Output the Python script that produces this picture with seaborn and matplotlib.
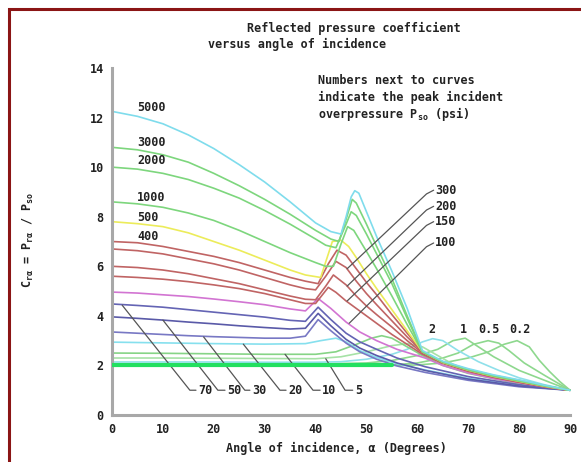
import numpy as np
import pandas as pd
import seaborn as sns
import matplotlib.pyplot as plt
from matplotlib.patches import Rectangle

# curve data: angle of incidence (deg) -> C_ra
a5000 = [0, 5, 10, 15, 20, 25, 30, 35, 40, 43, 45, 46, 47, 47.7, 48.5, 50, 52, 55, 58, 61, 65, 70, 75, 80, 85, 90]
c5000 = [12.25, 12.05, 11.75, 11.3, 10.75, 10.1, 9.4, 8.6, 7.75, 7.4, 7.3, 8.0, 8.8, 9.05, 8.95, 8.2, 7.2, 5.8, 4.3, 2.6, 2.17, 1.87, 1.62, 1.42, 1.2, 1.0]
a3000 = [0, 5, 10, 15, 20, 25, 30, 35, 40, 43, 44.6, 46, 47.2, 48, 50, 52, 55, 58, 61, 65, 70, 75, 80, 85, 90]
c3000 = [10.8, 10.7, 10.5, 10.2, 9.75, 9.25, 8.7, 8.1, 7.45, 7.1, 7.0, 7.9, 8.7, 8.55, 7.7, 6.8, 5.5, 4.0, 2.55, 2.15, 1.84, 1.6, 1.4, 1.19, 1.0]
a2000 = [0, 5, 10, 15, 20, 25, 30, 35, 40, 42, 44, 46, 47, 48, 50, 52, 55, 58, 61, 65, 70, 75, 80, 85, 90]
c2000 = [10.0, 9.92, 9.75, 9.5, 9.15, 8.75, 8.25, 7.7, 7.1, 6.85, 6.75, 7.7, 8.2, 8.05, 7.3, 6.5, 5.3, 3.9, 2.55, 2.14, 1.83, 1.58, 1.38, 1.18, 1.0]
a1000 = [0, 5, 10, 15, 20, 25, 30, 35, 40, 42, 43.5, 45, 46.3, 47.5, 50, 52, 55, 58, 61, 65, 70, 75, 80, 85, 90]
c1000 = [8.6, 8.52, 8.38, 8.15, 7.85, 7.45, 7.0, 6.55, 6.15, 6.0, 6.0, 6.9, 7.6, 7.45, 6.6, 5.9, 4.8, 3.65, 2.55, 2.13, 1.82, 1.57, 1.37, 1.17, 1.0]
a500 = [0, 5, 10, 15, 20, 25, 30, 35, 38, 41, 43.3, 45, 46.5, 48, 50, 52, 55, 58, 61, 65, 70, 75, 80, 85, 90]
c500 = [7.8, 7.72, 7.6, 7.35, 7.0, 6.65, 6.25, 5.85, 5.65, 5.55, 7.0, 7.05, 6.8, 6.35, 5.7, 5.1, 4.25, 3.4, 2.55, 2.12, 1.81, 1.56, 1.36, 1.16, 1.0]
a400 = [0, 5, 10, 15, 20, 25, 30, 35, 38, 40.5, 42.5, 44.2, 46, 48, 50, 52, 55, 58, 61, 65, 70, 75, 80, 85, 90]
c400 = [7.0, 6.95, 6.8, 6.6, 6.4, 6.15, 5.85, 5.55, 5.4, 5.3, 6.1, 6.65, 6.45, 5.9, 5.35, 4.85, 4.05, 3.3, 2.55, 2.12, 1.8, 1.55, 1.35, 1.16, 1.0]
a300 = [0, 5, 10, 15, 20, 25, 30, 35, 38, 40, 42, 44, 46, 48, 50, 52, 55, 58, 61, 65, 70, 75, 80, 85, 90]
c300 = [6.7, 6.63, 6.5, 6.3, 6.1, 5.85, 5.55, 5.25, 5.1, 5.05, 5.6, 6.2, 5.95, 5.4, 4.9, 4.45, 3.8, 3.15, 2.55, 2.11, 1.79, 1.54, 1.34, 1.15, 1.0]
a200 = [0, 5, 10, 15, 20, 25, 30, 35, 38, 40, 42, 43.5, 46, 48, 50, 52, 55, 58, 61, 65, 70, 75, 80, 85, 90]
c200 = [6.0, 5.95, 5.85, 5.7, 5.5, 5.3, 5.05, 4.8, 4.67, 4.65, 5.2, 5.65, 5.25, 4.8, 4.4, 4.05, 3.55, 3.0, 2.5, 2.1, 1.78, 1.53, 1.33, 1.14, 1.0]
a150 = [0, 5, 10, 15, 20, 25, 30, 35, 38, 40, 42.5, 44, 46, 48, 50, 52, 55, 58, 61, 65, 70, 75, 80, 85, 90]
c150 = [5.6, 5.55, 5.48, 5.38, 5.25, 5.1, 4.9, 4.65, 4.5, 4.5, 5.15, 4.95, 4.6, 4.3, 4.0, 3.7, 3.25, 2.85, 2.45, 2.08, 1.76, 1.52, 1.32, 1.14, 1.0]
a100 = [0, 5, 10, 15, 20, 25, 30, 35, 38, 40.5, 43, 46, 48.7, 52, 56, 61.5, 65, 70, 75, 80, 85, 90]
c100 = [4.96, 4.92, 4.85, 4.78, 4.68, 4.57, 4.45, 4.28, 4.2, 4.7, 4.3, 3.75, 3.35, 3.0, 2.65, 2.3, 2.0, 1.7, 1.47, 1.3, 1.14, 1.0]
a70 = [0, 5, 10, 15, 20, 25, 30, 35, 38, 40.5, 43, 46, 48.7, 52, 56, 61.5, 70, 80, 90]
c70 = [4.48, 4.42, 4.35, 4.25, 4.15, 4.05, 3.95, 3.82, 3.78, 4.35, 3.85, 3.3, 2.95, 2.65, 2.3, 1.95, 1.55, 1.22, 1.0]
a50 = [0, 5, 10, 15, 20, 25, 30, 35, 38, 40.5, 43, 46, 48.7, 52, 56, 61.5, 70, 80, 90]
c50 = [3.96, 3.9, 3.83, 3.75, 3.68, 3.6, 3.53, 3.47, 3.5, 4.1, 3.6, 3.05, 2.7, 2.4, 2.1, 1.8, 1.45, 1.17, 1.0]
a30 = [0, 5, 10, 15, 20, 25, 30, 35, 38, 40.5, 43, 46, 48.7, 52, 56, 61.5, 70, 80, 90]
c30 = [3.35, 3.3, 3.25, 3.2, 3.16, 3.13, 3.1, 3.1, 3.18, 3.85, 3.4, 2.9, 2.55, 2.25, 1.98, 1.72, 1.4, 1.14, 1.0]
a20 = [0, 10, 20, 30, 38, 41, 44, 46, 48.7, 52, 56, 61.5, 70, 80, 90]
c20 = [2.94, 2.91, 2.88, 2.86, 2.88, 3.0, 3.1, 2.95, 2.6, 2.32, 2.07, 1.82, 1.48, 1.18, 1.0]
a10 = [0, 10, 20, 30, 40, 44, 48, 51, 53, 55, 58, 61, 65, 70, 80, 90]
c10 = [2.5, 2.49, 2.47, 2.45, 2.45, 2.55, 2.85, 3.1, 3.2, 3.1, 2.75, 2.4, 2.0, 1.68, 1.25, 1.0]
a5 = [0, 10, 20, 30, 40, 45, 50, 55, 58, 61, 64, 67, 70, 80, 90]
c5 = [2.3, 2.3, 2.29, 2.28, 2.27, 2.35, 2.55, 2.8, 2.88, 2.75, 2.4, 2.05, 1.8, 1.3, 1.0]
a2 = [0, 10, 20, 30, 40, 45, 50, 55, 58, 61, 63, 65, 68, 72, 76, 80, 85, 90]
c2 = [2.14, 2.14, 2.14, 2.13, 2.13, 2.15, 2.25, 2.45, 2.65, 2.95, 3.08, 3.0, 2.6, 2.15, 1.8, 1.5, 1.22, 1.0]
a1 = [0, 10, 20, 30, 40, 50, 55, 60, 64, 67, 69.4, 72, 75, 80, 85, 90]
c1 = [2.05, 2.05, 2.05, 2.05, 2.05, 2.1, 2.2, 2.4, 2.65, 3.0, 3.1, 2.75, 2.35, 1.8, 1.4, 1.0]
a0_5 = [0, 10, 20, 30, 40, 50, 55, 60, 65, 68, 71, 73.9, 76, 78, 81, 85, 90]
c0_5 = [2.0, 2.0, 2.0, 2.0, 2.0, 2.0, 2.02, 2.1, 2.3, 2.5, 2.85, 3.0, 2.9, 2.6, 2.1, 1.6, 1.0]
a0_2 = [0, 10, 20, 30, 40, 50, 55, 60, 65, 70, 74, 77, 79.6, 82, 84, 86, 88, 90]
c0_2 = [2.0, 2.0, 2.0, 2.0, 2.0, 2.0, 2.0, 2.02, 2.1, 2.3, 2.55, 2.85, 3.0, 2.75, 2.2, 1.75, 1.35, 1.0]

curves = [
    ("5000", a5000, c5000, "#7fdcec"),
    ("3000", a3000, c3000, "#7dd67d"),
    ("2000", a2000, c2000, "#7dd67d"),
    ("1000", a1000, c1000, "#7dd67d"),
    ("500", a500, c500, "#ecec5a"),
    ("400", a400, c400, "#c06464"),
    ("300", a300, c300, "#c06464"),
    ("200", a200, c200, "#c06464"),
    ("150", a150, c150, "#c06464"),
    ("100", a100, c100, "#d274d2"),
    ("70", a70, c70, "#6464b4"),
    ("50", a50, c50, "#5a5aa8"),
    ("30", a30, c30, "#7878c4"),
    ("20", a20, c20, "#86e0ee"),
    ("10", a10, c10, "#86d486"),
    ("5", a5, c5, "#a6e2a6"),
    ("2", a2, c2, "#8fe0ea"),
    ("1", a1, c1, "#8ed88e"),
    ("0.5", a0_5, c0_5, "#8ed88e"),
    ("0.2", a0_2, c0_2, "#8ed88e"),
]

# labels on the left (value, y)
left_labels = ["5000", "3000", "2000", "1000", "500", "400"]
left_label_y = [12.4, 11.0, 10.28, 8.78, 7.95, 7.22]
# labels at right with leaders (label y, leader end x, leader end y)
right_labels = ["300", "200", "150", "100"]
right_label_y = [9.07, 8.42, 7.8, 6.94]
right_end_x = [46.2, 46.2, 46.2, 46.6]
right_end_y = [5.9, 5.2, 4.6, 3.7]
# labels along the bottom with leaders
bottom_labels = ["70", "50", "30", "20", "10", "5"]
bottom_text_x = [16.9, 22.6, 27.5, 34.6, 41.3, 47.7]
bottom_bend_x = [15.3, 20.8, 26.1, 33.0, 39.5, 45.8]
bottom_top_x = [2.0, 10.0, 18.0, 25.8, 34.0, 42.0]
bottom_top_y = [4.43, 3.83, 3.15, 2.86, 2.45, 2.27]
# labels above the low-pressure peaks
peak_labels = ["2", "1", "0.5", "0.2"]
peak_label_x = [62.9, 69.0, 74.1, 80.1]

rows = []
for name, a, c, col in curves:
    for x, y in zip(a, c):
        rows.append((name, x, y))
df = pd.DataFrame(rows, columns=["pso", "angle", "cr"])
palette = {name: col for name, _, _, col in curves}

sns.set_theme(style="white")
plt.rcParams["font.family"] = ["DejaVu Sans Mono"]
plt.rcParams["font.weight"] = "bold"
plt.rcParams["mathtext.fontset"] = "custom"
plt.rcParams["mathtext.rm"] = "DejaVu Sans Mono:bold"
plt.rcParams["mathtext.it"] = "DejaVu Sans Mono:bold"
plt.rcParams["mathtext.bf"] = "DejaVu Sans Mono:bold"

fig = plt.figure(figsize=(5.81, 4.62), dpi=100)
ax = fig.add_axes([0.1928, 0.1017, 0.7883, 0.7511])

order = [name for name, _, _, _ in curves][::-1]
sns.lineplot(data=df, x="angle", y="cr", hue="pso", hue_order=order, palette=palette,
             estimator=None, sort=False, legend=False, linewidth=1.2, ax=ax, clip_on=False)

# bright overlapping start of the lowest curves
low = df[(df.pso == "0.2") & (df.angle <= 55)]
ax.plot(low.angle, low.cr, color="#22e060", lw=3, zorder=3)

ax.set_xlim(0, 90)
ax.set_ylim(0, 14)
ax.set_xticks(range(0, 91, 10))
ax.set_yticks(range(0, 15, 2))
ax.set_xlabel("")
ax.set_ylabel("")
for s in ["top", "right"]:
    ax.spines[s].set_visible(False)
for s in ["left", "bottom"]:
    ax.spines[s].set_color("#a8a8a8")
    ax.spines[s].set_linewidth(2.2)
ax.tick_params(axis="both", direction="inout", length=8, width=1.2, color="#808080",
               labelsize=8.5, labelcolor="#222222", pad=2)

txt = dict(fontsize=8.5, color="#222222", fontweight="bold")
for lab, y in zip(left_labels, left_label_y):
    ax.text(4.9, y, lab, ha="left", va="center", **txt)

for lab, y, ex, ey in zip(right_labels, right_label_y, right_end_x, right_end_y):
    ax.plot([63.2, 61.8, ex], [y, y - 0.15, ey], color="#555555", lw=0.9)
    ax.text(63.5, y, lab, ha="left", va="center", **txt)

for lab, tx, bx, topx, topy in zip(bottom_labels, bottom_text_x, bottom_bend_x, bottom_top_x, bottom_top_y):
    ax.plot([topx, bx, tx - 0.4], [topy, 1.0, 1.0], color="#555555", lw=0.9)
    ax.text(tx, 1.0, lab, ha="left", va="center", **txt)

for lab, x in zip(peak_labels, peak_label_x):
    ax.text(x, 3.43, lab, ha="center", va="center", **txt)

ax.text(40.5, 13.5, "Numbers next to curves", ha="left", va="center", **txt)
ax.text(40.5, 12.82, "indicate the peak incident", ha="left", va="center", **txt)
ax.text(40.5, 12.14, r"overpressure P$_{\mathrm{so}}$ (psi)", ha="left", va="center", **txt)

fig.text(247 / 581, 1 - 28 / 462, "Reflected pressure coefficient", ha="left", va="center", **txt)
fig.text(208 / 581, 1 - 44 / 462, "versus angle of incidence", ha="left", va="center", **txt)
fig.text(336 / 581, 1 - 448 / 462, "Angle of incidence, \u03b1 (Degrees)", ha="center", va="center", **txt)
fig.text(28 / 581, 1 - 240 / 462, r"C$_{\mathrm{r\alpha}}$ = P$_{\mathrm{r\alpha}}$ / P$_{\mathrm{so}}$",
         ha="center", va="center", rotation=90, **txt)

# dark red frame, only left and top edges fall inside the image
fig.patches.append(Rectangle((9 / 581, -0.2), 1.5, 1.2 - 9 / 462, transform=fig.transFigure,
                             fill=False, edgecolor="#8b1515", lw=2.2))

fig.savefig("out.png", dpi=100)
